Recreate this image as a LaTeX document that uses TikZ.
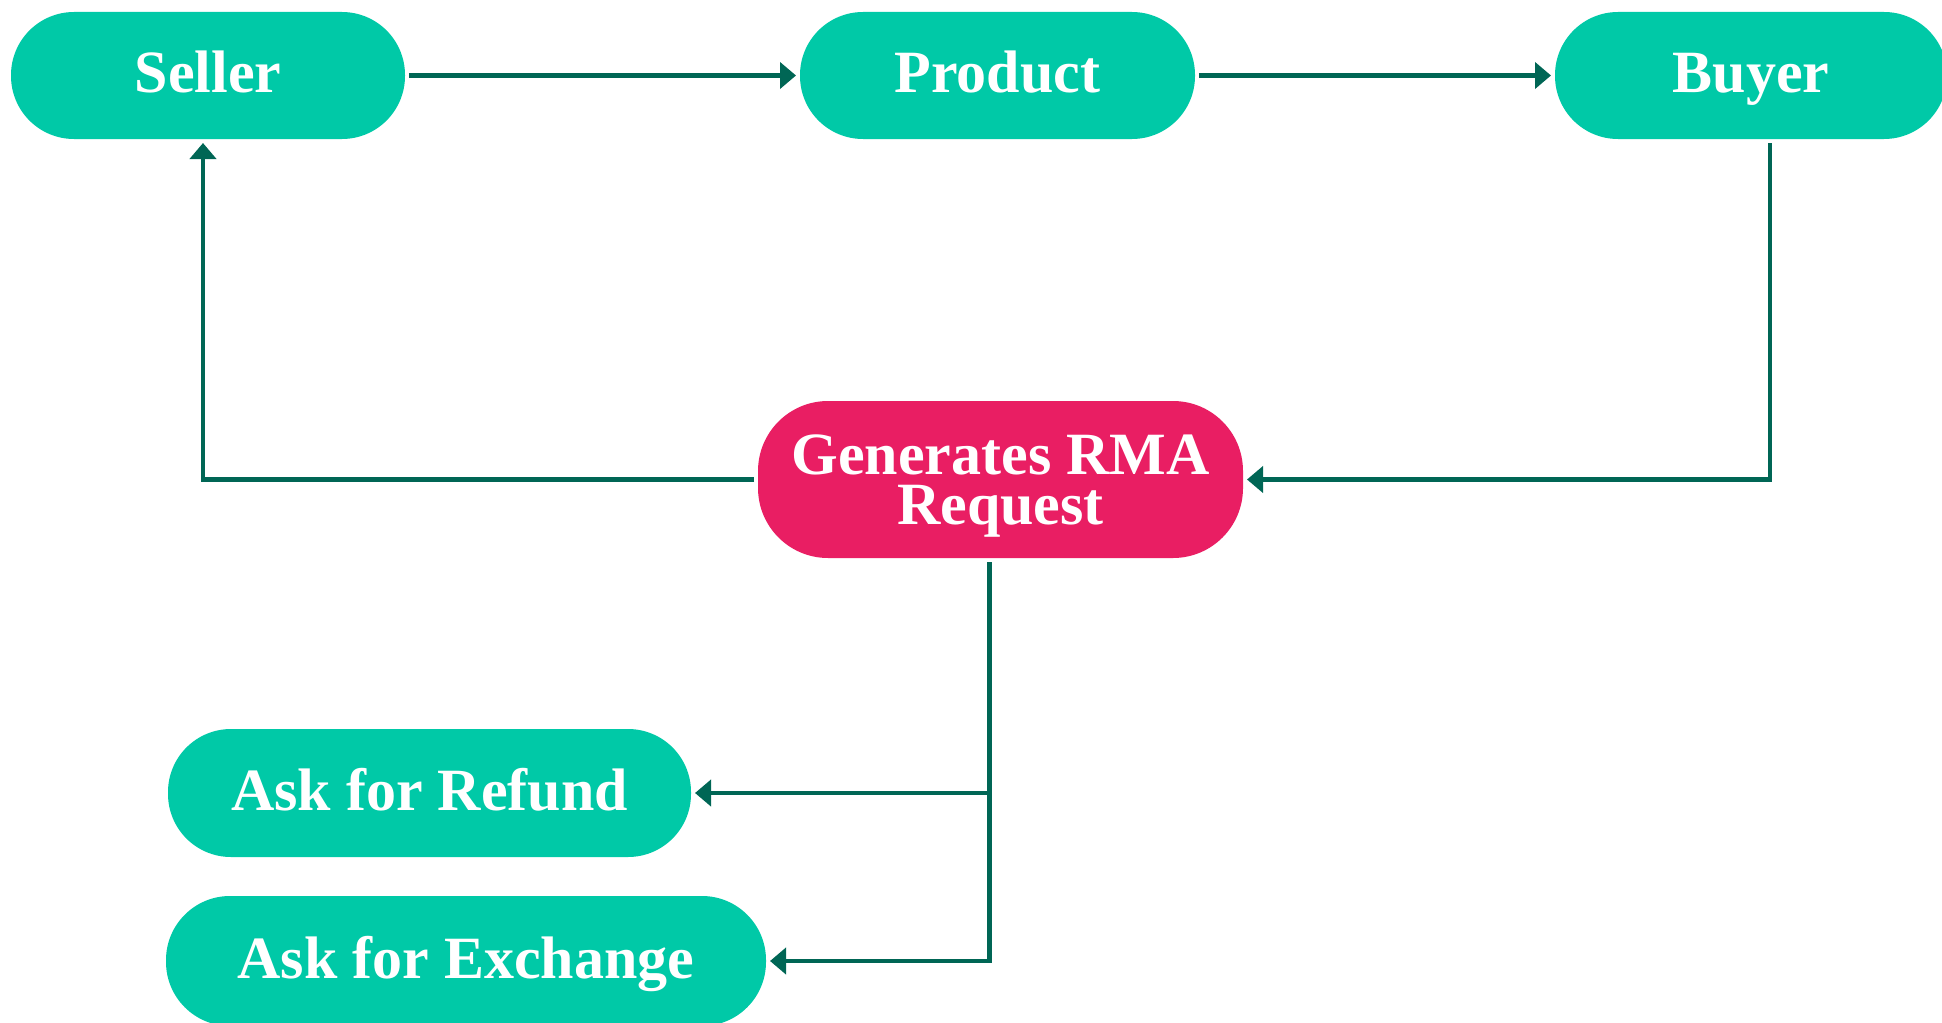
\documentclass[tikz,border=0pt]{standalone}
\usepackage{fontspec}
\setmainfont{Liberation Serif}
\usetikzlibrary{arrows.meta}
\definecolor{boxgreen}{RGB}{0,201,167}
\definecolor{boxpink}{RGB}{233,30,99}
\definecolor{linegreen}{RGB}{0,102,85}
\begin{document}
\begin{tikzpicture}[x=1pt,y=-1pt]
		\useasboundingbox (0,0) rectangle (1942,1022);
		\tikzstyle{box}=[fill=boxgreen,text=white,font=\bfseries\fontsize{60}{50}\selectfont,align=center,rounded corners=63pt,inner sep=0pt,outer sep=4pt,minimum height=127pt,text height=40pt,text depth=6pt]
		\tikzstyle{flow}=[draw=linegreen,line width=4.5pt,-{Triangle[length=16pt,width=26pt]}]
		\node[box,minimum width=394pt] (seller) at (208,75.5) {Seller};
		\node[box,minimum width=395pt] (product) at (997.5,75.5) {Product};
		\node[box,minimum width=392pt] (buyer) at (1751,75.5) {Buyer};
		\node[box,fill=boxpink,minimum width=485pt,minimum height=157pt,rounded corners=70pt,text height=,text depth=0pt] (rma) at (1000.5,479.5) {Generates RMA\\Request};
		\node[box,minimum width=523pt,minimum height=128pt] (refund) at (429.5,793) {Ask for Refund};
		\node[box,minimum width=600pt,minimum height=130pt,rounded corners=64pt] (exchange) at (466,961) {Ask for Exchange};
		\draw[flow] (seller) -- (product);
		\draw[flow] (product) -- (buyer);
		\draw[flow] ([xshift=19pt]buyer.south) |- (rma);
		\draw[flow] (rma) -| ([xshift=-5pt]seller.south);
		\draw[flow] ([xshift=-11pt]rma.south) |- (refund);
		\draw[flow] ([xshift=-11pt]rma.south) |- (exchange);
	\end{tikzpicture}
\end{document}
